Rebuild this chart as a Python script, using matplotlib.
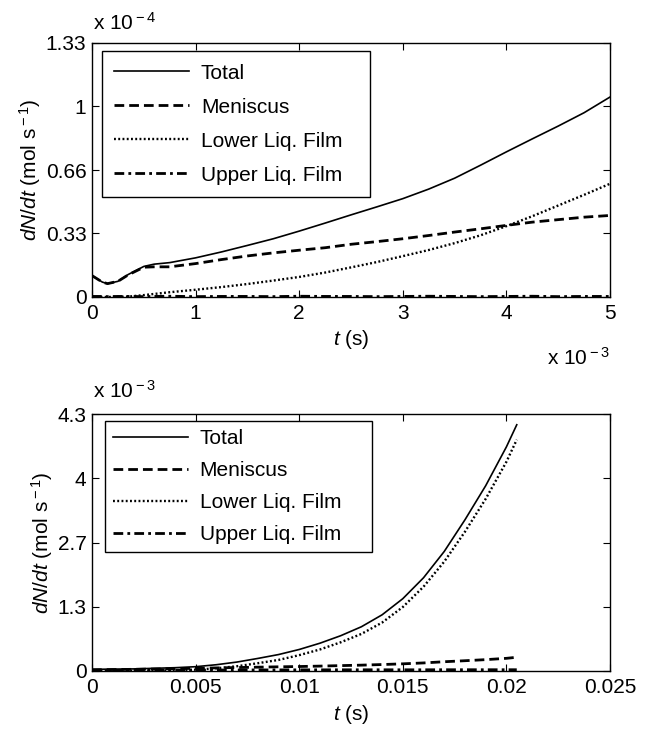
import matplotlib
matplotlib.use("Agg")
import matplotlib.pyplot as plt
import numpy as np

plt.rcParams['font.family'] = ['Liberation Sans', 'DejaVu Sans']
plt.rcParams['mathtext.fontset'] = 'custom'
plt.rcParams['mathtext.rm'] = 'Liberation Sans'
plt.rcParams['mathtext.it'] = 'Liberation Sans:italic'

# early stage, t in ms, rates in 1e-4 mol/s
t_early = [0, 0.1, 0.15, 0.25, 0.35, 0.5, 0.6, 0.75, 1.0, 1.25, 1.5, 1.75, 2.0,
           2.25, 2.5, 2.75, 3.0, 3.25, 3.5, 3.75, 4.0, 4.25, 4.5, 4.75, 5.0]
total_early = [0.112, 0.078, 0.070, 0.082, 0.118, 0.160, 0.172, 0.180, 0.205, 0.236,
               0.270, 0.305, 0.345, 0.387, 0.430, 0.472, 0.515, 0.565, 0.622, 0.690,
               0.760, 0.828, 0.895, 0.965, 1.047]
meniscus_early = [0.112, 0.078, 0.070, 0.082, 0.116, 0.156, 0.158, 0.158, 0.175, 0.196,
                  0.215, 0.231, 0.245, 0.258, 0.276, 0.290, 0.305, 0.322, 0.340, 0.357,
                  0.375, 0.392, 0.405, 0.418, 0.427]
lower_early = [0.0, 0.0, 0.0, 0.001, 0.002, 0.010, 0.016, 0.025, 0.038, 0.052,
               0.068, 0.086, 0.105, 0.128, 0.155, 0.183, 0.214, 0.246, 0.282, 0.323,
               0.371, 0.423, 0.479, 0.535, 0.593]
upper_early = [0.003, 0.003, 0.002, 0.003, 0.003, 0.002, 0.003, 0.004, 0.002, 0.003,
               0.003, 0.002, 0.004, 0.003, 0.003, 0.002, 0.003, 0.004, 0.003, 0.002,
               0.003, 0.004, 0.002, 0.003, 0.003]

# full run, t in s, rates in 1e-3 mol/s
t_full = [0, 0.002, 0.004, 0.005, 0.006, 0.007, 0.008, 0.009, 0.010, 0.011,
          0.012, 0.013, 0.014, 0.015, 0.016, 0.017, 0.018, 0.019, 0.020, 0.0205]
total_full = [0.028, 0.035, 0.055, 0.072, 0.105, 0.150, 0.210, 0.275, 0.360, 0.465,
              0.590, 0.740, 0.940, 1.210, 1.560, 2.000, 2.530, 3.100, 3.750, 4.120]
meniscus_full = [0.020, 0.028, 0.038, 0.045, 0.052, 0.058, 0.064, 0.070, 0.075, 0.082,
                 0.090, 0.098, 0.108, 0.120, 0.135, 0.155, 0.172, 0.190, 0.212, 0.230]
lower_full = [0.0, 0.003, 0.012, 0.022, 0.045, 0.080, 0.130, 0.185, 0.265, 0.360,
              0.480, 0.620, 0.810, 1.070, 1.410, 1.830, 2.330, 2.880, 3.500, 3.870]
upper_full = [0.010, 0.012, 0.014, 0.015, 0.016, 0.017, 0.018, 0.018, 0.019, 0.019,
              0.020, 0.020, 0.020, 0.020, 0.020, 0.021, 0.021, 0.021, 0.021, 0.021]

labels = ["Total", "Meniscus", "Lower Liq. Film", "Upper Liq. Film"]
ytick_early = ["0", "0.33", "0.66", "1", "1.33"]
ytick_full = ["0", "1.3", "2.7", "4", "4.3"]
xtick_full = ["0", "0.005", "0.01", "0.015", "0.02", "0.025"]

W, H = 659, 736
fig = plt.figure(figsize=(W / 100, H / 100), dpi=100)


def box(x0, y0, x1, y1):
    return [x0 / W, 1 - y1 / H, (x1 - x0) / W, (y1 - y0) / H]


def draw_series(ax, t, tot, men, low, up):
    ax.plot(t, tot, color="black", lw=1.2, label=labels[0])
    ax.plot(t, men, color="black", lw=2.0, dashes=(3.5, 1.8), label=labels[1])
    ax.plot(t, low, color="black", lw=1.7, dashes=(0.8, 1.0), label=labels[2])
    ax.plot(t, up, color="black", lw=2.0, dashes=(3.5, 1.5, 1.0, 1.5), label=labels[3])


def style(ax):
    ax.tick_params(direction="in", top=True, right=True, length=5, width=0.8,
                   labelsize=15, pad=5)
    ax.tick_params(axis="y", pad=4)
    for s in ax.spines.values():
        s.set_linewidth(1.0)
    ax.set_xlabel(r"$t$ (s)", fontsize=15, labelpad=4)
    ax.set_ylabel(r"$dN/dt$ (mol s$^{\rm -1}$)", fontsize=15, labelpad=2)


def add_legend(ax, anchor, spacing, pad):
    leg = ax.legend(loc="upper left", bbox_to_anchor=anchor, mode="expand",
                    fontsize=15, frameon=True, fancybox=False, edgecolor="black",
                    framealpha=1, handlelength=3.6, handletextpad=0.55,
                    labelspacing=spacing, borderpad=pad, borderaxespad=0)
    leg.get_frame().set_linewidth(1.0)
    return leg


ax1 = fig.add_axes(box(92, 43, 610, 297))
draw_series(ax1, t_early, total_early, meniscus_early, lower_early, upper_early)
ax1.set_xlim(0, 5)
ax1.set_ylim(0, 1.33)
ax1.set_xticks(range(6))
ax1.set_yticks(np.linspace(0, 1.33, 5))
ax1.set_yticklabels(ytick_early)
style(ax1)
add_legend(ax1, (0.0193, 0.9685, 0.518, 0.0), 0.72, 0.6)

ax2 = fig.add_axes(box(92, 414, 610, 671))
draw_series(ax2, t_full, total_full, meniscus_full, lower_full, upper_full)
ax2.set_xlim(0, 0.025)
ax2.set_ylim(0, 4.3)
ax2.set_xticks(np.arange(6) * 0.005)
ax2.set_xticklabels(xtick_full)
ax2.set_yticks(np.linspace(0, 4.3, 5))
ax2.set_yticklabels(ytick_full)
style(ax2)
add_legend(ax2, (0.025, 0.973, 0.515, 0.0), 0.62, 0.4)

# exponent markers
fig.text(93 / W, 1 - 29.5 / H, r"x 10$^{\rm -4}$", fontsize=15, va="baseline")
fig.text(610 / W, 1 - 365 / H, r"x 10$^{\rm -3}$", fontsize=15, va="baseline", ha="right")
fig.text(93 / W, 1 - 398 / H, r"x 10$^{\rm -3}$", fontsize=15, va="baseline")

fig.savefig("out.png", dpi=100)
